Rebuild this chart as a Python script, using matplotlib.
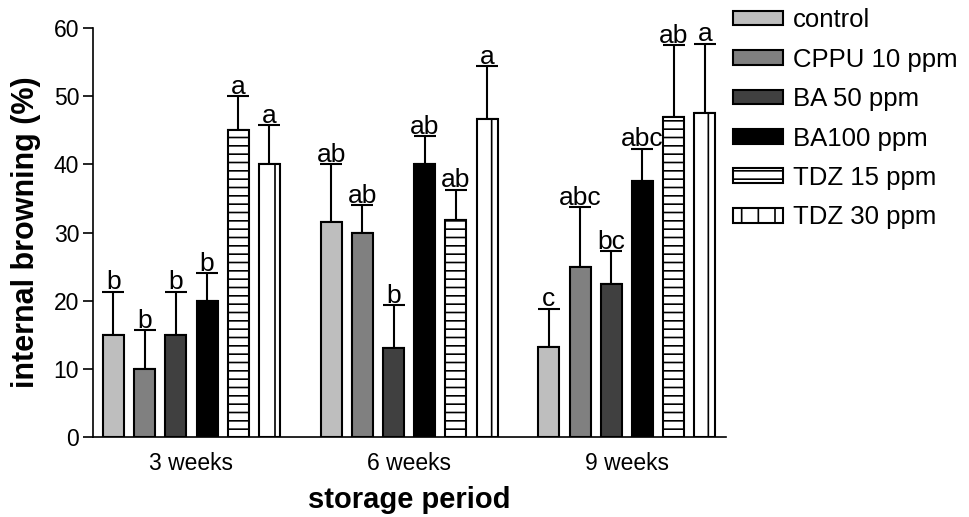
import matplotlib.pyplot as plt
import numpy as np

plt.rcParams['font.family'] = ['Liberation Sans', 'DejaVu Sans']
plt.rcParams['hatch.linewidth'] = 1.2

periods = ['3 weeks', '6 weeks', '9 weeks']
treatments = ['control', 'CPPU 10 ppm', 'BA 50 ppm', 'BA100 ppm', 'TDZ 15 ppm', 'TDZ 30 ppm']

means = [
    [15.0, 31.6, 13.2],   # control
    [10.0, 30.0, 25.0],   # CPPU 10 ppm
    [15.0, 13.1, 22.5],   # BA 50 ppm
    [20.0, 40.1, 37.6],   # BA100 ppm
    [45.0, 31.8, 47.0],   # TDZ 15 ppm
    [40.0, 46.7, 47.5],   # TDZ 30 ppm
]
errors = [
    [6.3, 8.4, 5.6],
    [5.7, 4.0, 8.7],
    [6.3, 6.2, 4.8],
    [4.0, 4.0, 4.7],
    [5.0, 4.5, 10.5],
    [5.7, 7.7, 10.2],
]
letters = [
    ['b', 'ab', 'c'],
    ['b', 'ab', 'abc'],
    ['b', 'b', 'bc'],
    ['b', 'ab', 'abc'],
    ['a', 'ab', 'ab'],
    ['a', 'a', 'a'],
]

colors = ['#bebebe', '#808080', '#404040', '#000000', 'white', 'white']
hatches = [None, None, None, None, '--', '|']

fig = plt.figure(figsize=(9.7, 5.17), dpi=100)
ax = fig.add_axes([0.0959, 0.1547, 0.6525, 0.7911])

x = np.arange(len(periods))
step = 0.1433
width = 0.0964

for i, name in enumerate(treatments):
    pos = x + (i - 2.5) * step
    ax.bar(pos, means[i], width=width, color=colors[i], edgecolor='black',
           linewidth=1.5, hatch=hatches[i], label=name, zorder=2)
    ax.errorbar(pos, means[i], yerr=[np.zeros(3), errors[i]], fmt='none',
                ecolor='black', elinewidth=1.5, capsize=8, capthick=1.5, zorder=1)
    for j in range(len(periods)):
        ax.text(pos[j], means[i][j] + errors[i][j] + 0.35, letters[i][j],
                ha='center', va='baseline', fontsize=19)

ax.set_xlim(-0.452, 2.455)
ax.set_ylim(0, 60)
ax.set_yticks(range(0, 61, 10))
ax.set_xticks(x)
ax.set_xticklabels(periods)
ax.tick_params(axis='x', length=0, pad=11, labelsize=16.5)
ax.tick_params(axis='y', length=7, width=1.2, labelsize=16.5, pad=3)
ax.spines['top'].set_visible(False)
ax.spines['right'].set_visible(False)
ax.spines['left'].set_linewidth(1.2)
ax.spines['bottom'].set_linewidth(1.2)

ax.set_ylabel('internal browning (%)', fontsize=22, fontweight='bold', labelpad=9)
ax.set_xlabel('storage period', fontsize=21, fontweight='bold', labelpad=8)

fig.legend(loc='upper left', bbox_to_anchor=(0.7557, 0.984), frameon=False,
           fontsize=18.5, handlelength=1.95, handleheight=0.5, handletextpad=0.39,
           labelspacing=0.6, borderaxespad=0, borderpad=0)

fig.savefig('out.png', dpi=100)
